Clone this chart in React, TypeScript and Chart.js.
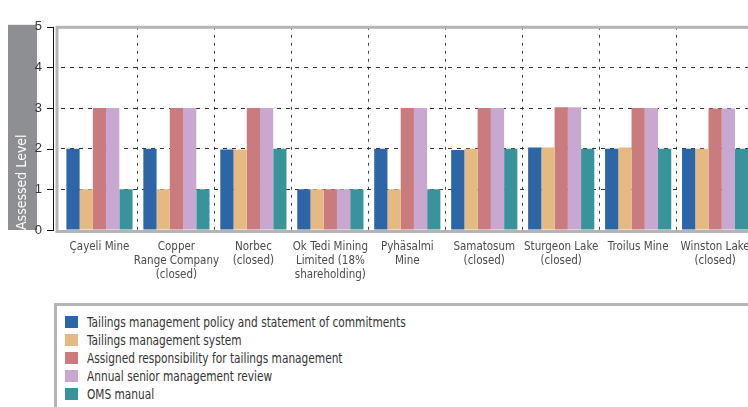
import React, { useEffect, useRef } from 'react';
import { Chart, registerables } from 'chart.js';
Chart.register(...registerables);

const categories: string[][] = [
  ['Çayeli Mine'],
  ['Copper', 'Range Company', '(closed)'],
  ['Norbec', '(closed)'],
  ['Ok Tedi Mining', 'Limited (18%', 'shareholding)'],
  ['Pyhäsalmi', 'Mine'],
  ['Samatosum', '(closed)'],
  ['Sturgeon Lake', '(closed)'],
  ['Troilus Mine'],
  ['Winston Lake', '(closed)'],
];
const seriesNames = [
  'Tailings management policy and statement of commitments',
  'Tailings management system',
  'Assigned responsibility for tailings management',
  'Annual senior management review',
  'OMS manual',
];
const policy = [2, 2, 1.98, 1, 2, 1.97, 2.03, 2, 2];
const system = [1, 1, 1.98, 1, 1, 2, 2.03, 2.03, 2];
const responsibility = [3, 3, 3, 1, 3, 3, 3.02, 3, 2.99];
const review = [3, 3, 3, 1, 3, 3, 3.02, 3, 2.99];
const oms = [1, 1, 2, 1, 1, 2, 2, 2, 2];
const seriesColors = ['#2c66a6', '#e5b982', '#c97b7d', '#c8a8d0', '#38939a'];
const yTicks = [0, 1, 2, 3, 4, 5];
const axisTitle = 'Assessed Level';

const FONT = '"DejaVu Sans Condensed", "Liberation Sans Narrow", sans-serif';

const decor = {
  id: 'decor',
  beforeDraw(chart: any) {
    const { ctx, chartArea: a } = chart;
    ctx.save();
    ctx.fillStyle = '#8e8f92';
    ctx.fillRect(8, a.top - 2, 29, a.bottom - a.top + 2);
    ctx.restore();
  },
  afterDraw(chart: any) {
    const { ctx, chartArea: a } = chart;
    const y = chart.scales.y;
    ctx.save();
    ctx.strokeStyle = '#b4b4b4';
    ctx.lineWidth = 3;
    ctx.strokeRect(57, a.top + 0.5, a.right - 57 + 20, a.bottom - a.top + 1);
    ctx.strokeStyle = '#111';
    ctx.lineWidth = 1;
    ctx.beginPath();
    ctx.moveTo(53.5, y.getPixelForValue(5));
    ctx.lineTo(53.5, y.getPixelForValue(0));
    yTicks.forEach((v) => {
      const py = Math.round(y.getPixelForValue(v)) + 0.5;
      ctx.moveTo(47, py);
      ctx.lineTo(54, py);
    });
    ctx.stroke();
    ctx.restore();
  },
};

export default function App() {
  const ref = useRef<HTMLCanvasElement>(null);
  useEffect(() => {
    const datasetsValues = [policy, system, responsibility, review, oms];
    const chart = new Chart(ref.current!, {
      type: 'bar',
      data: {
        labels: categories,
        datasets: datasetsValues.map((d, i) => ({
          label: seriesNames[i],
          data: d,
          backgroundColor: seriesColors[i],
          borderWidth: 0,
          categoryPercentage: 0.86,
          barPercentage: 1,
        })),
      },
      options: {
        animation: false,
        responsive: false,
        layout: { padding: { top: 16, right: 6, left: 0, bottom: 0 } },
        plugins: { legend: { display: false }, tooltip: { enabled: false } },
        scales: {
          x: {
            grid: {
              color: (c: any) => (c.index === 0 ? 'rgba(0,0,0,0)' : '#444'),
              drawTicks: false,
              offset: true,
            },
            border: { display: false, dash: [3, 5] },
            ticks: {
              color: '#4a4a4a',
              font: { family: FONT, size: 11.5, lineHeight: 1.22 },
              padding: 10,
              maxRotation: 0,
              autoSkip: false,
            },
            afterFit: (s: any) => {
              s.height = 70;
            },
          },
          y: {
            min: 0,
            max: 5,
            grid: {
              color: (c: any) => (c.tick && (c.tick.value === 0 || c.tick.value === 5) ? 'rgba(0,0,0,0)' : '#333'),
              drawTicks: false,
            },
            border: { display: false, dash: [4, 5] },
            afterBuildTicks: (s: any) => {
              s.ticks = yTicks.map((v) => ({ value: v }));
            },
            ticks: {
              color: '#333',
              font: { family: '"Liberation Sans", Arial, sans-serif', size: 13 },
              padding: 19,
            },
            title: {
              display: true,
              text: axisTitle,
              color: '#ffffff',
              align: 'start',
              font: { family: FONT, size: 14 },
              padding: { top: 14, bottom: 0 },
            },
            afterFit: (s: any) => {
              s.width = 61;
            },
          },
        },
      },
      plugins: [decor],
    } as any);
    return () => chart.destroy();
  }, []);

  return (
    <div style={{ position: 'absolute', left: 0, top: 0, width: 748, height: 407, overflow: 'hidden', background: '#fff' }}>
      <canvas ref={ref} width={760} height={300} style={{ position: 'absolute', left: 0, top: 0, width: 760, height: 300 }} />
      <div
        style={{
          position: 'absolute',
          left: 54,
          top: 303,
          width: 720,
          height: 120,
          borderTop: '3px solid #b4b4b4',
          borderLeft: '3px solid #b4b4b4',
          boxSizing: 'border-box',
          paddingTop: 7,
          paddingLeft: 8,
          fontFamily: FONT,
          fontSize: 14,
          color: '#333',
        }}
      >
        {seriesNames.map((n, i) => (
          <div key={n} style={{ display: 'flex', alignItems: 'center', height: 18 }}>
            <span style={{ display: 'inline-block', flex: 'none', width: 13, height: 12, background: seriesColors[i], marginRight: 9 }} />
            <span style={{ display: 'inline-block', whiteSpace: 'nowrap', transform: 'scaleX(0.84)', transformOrigin: 'left center' }}>{n}</span>
          </div>
        ))}
      </div>
    </div>
  );
}
